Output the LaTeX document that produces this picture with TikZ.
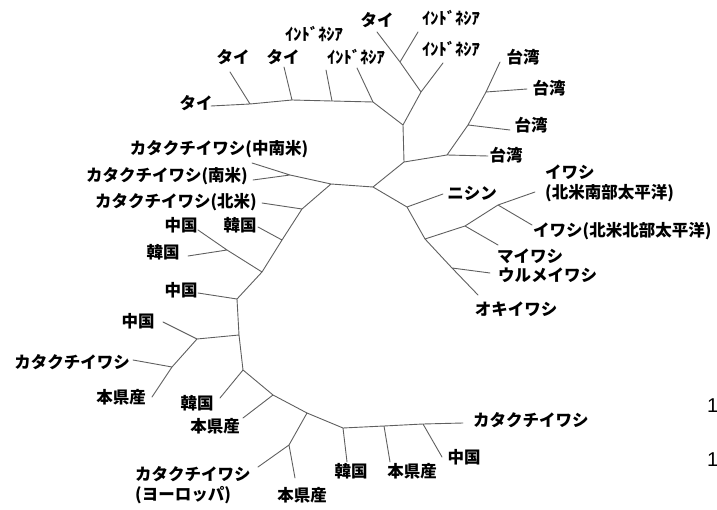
\documentclass[tikz,border=0pt]{standalone}
\usepackage{fontspec}
\newfontfamily\jp{Noto Sans CJK JP}
\newfontfamily\numf{Liberation Sans}
\definecolor{linegray}{RGB}{95,95,95}
\begin{document}
\begin{tikzpicture}[x=1pt,y=-1pt,
  br/.style={draw=linegray, line width=0.9pt, line cap=round},
  lab/.style={font=\jp\bfseries\fontsize{16.5}{20}\selectfont, inner sep=0pt, text=black},
  num/.style={font=\numf\fontsize{20}{22}\selectfont, inner sep=0pt, text=black}]
\useasboundingbox (0,0) rectangle (717,510);
% internal nodes
\coordinate (A) at (403,125);
\coordinate (B) at (404,162);
\coordinate (C) at (373,187);
\coordinate (D) at (407,207);
\coordinate (E) at (425,239);
\coordinate (F) at (465,226);
\coordinate (G) at (498,205);
\coordinate (H) at (452,268);
\coordinate (I) at (421,92);
\coordinate (J) at (400,62);
\coordinate (K) at (373,102);
\coordinate (K2) at (332,101);
\coordinate (K3) at (292,100);
\coordinate (K4) at (250,104);
\coordinate (TW1) at (447,155);
\coordinate (TW2) at (468,125);
\coordinate (TW3) at (486,92);
\coordinate (L) at (331,184);
\coordinate (M) at (290,175);
\coordinate (N) at (302,209);
\coordinate (O) at (282,240);
\coordinate (P) at (262,272);
\coordinate (Q) at (227,250);
\coordinate (R) at (237,299);
\coordinate (S) at (239,335);
\coordinate (T) at (197,339);
\coordinate (V) at (172,367);
\coordinate (U) at (243,370);
\coordinate (W) at (273,395);
\coordinate (X) at (307,413);
\coordinate (Y) at (289,445);
\coordinate (Z) at (343,428);
\coordinate (AA) at (384,426);
\coordinate (BB) at (423,424);
% leaf ends
\coordinate (l1) at (211,106);
\coordinate (l2) at (230,72);
\coordinate (l3) at (284,67);
\coordinate (l4) at (326,70);
\coordinate (l5) at (357,68);
\coordinate (l6) at (377,32);
\coordinate (l7) at (418,32);
\coordinate (l8) at (443,63);
\coordinate (l9) at (500,62);
\coordinate (l10) at (527,89);
\coordinate (l11) at (510,130);
\coordinate (l12) at (488,156);
\coordinate (l13) at (443,194);
\coordinate (l14) at (535,192);
\coordinate (l15) at (532,225);
\coordinate (l16) at (498,245);
\coordinate (l17) at (490,273);
\coordinate (l18) at (478,295);
\coordinate (l19) at (252,163);
\coordinate (l20) at (253,180);
\coordinate (l21) at (262,203);
\coordinate (l22) at (258,227);
\coordinate (l23) at (198,230);
\coordinate (l24) at (188,256);
\coordinate (l25) at (198,293);
\coordinate (l26) at (163,322);
\coordinate (l27) at (133,360);
\coordinate (l28) at (152,397);
\coordinate (l29) at (220,398);
\coordinate (l30) at (243,418);
\coordinate (l31) at (258,467);
\coordinate (l32) at (295,478);
\coordinate (l33) at (347,462);
\coordinate (l34) at (390,462);
\coordinate (l35) at (442,457);
\coordinate (l36) at (463,423);
% branches
\draw[br] (A)--(B) (A)--(I) (A)--(K) (B)--(TW1) (B)--(C) (C)--(D) (C)--(L)
  (D)--(l13) (D)--(E) (E)--(F) (F)--(G) (G)--(l14) (G)--(l15) (F)--(l16)
  (E)--(H) (H)--(l17) (H)--(l18)
  (I)--(J) (I)--(l8) (J)--(l6) (J)--(l7)
  (K)--(l5) (K)--(K2) (K2)--(l4) (K2)--(K3) (K3)--(l3) (K3)--(K4) (K4)--(l2) (K4)--(l1)
  (TW1)--(l12) (TW1)--(TW2) (TW2)--(l11) (TW2)--(TW3) (TW3)--(l10) (TW3)--(l9)
  (L)--(M) (M)--(l19) (M)--(l20) (L)--(N) (N)--(l21) (N)--(O) (O)--(l22) (O)--(P)
  (P)--(Q) (Q)--(l23) (Q)--(l24) (P)--(R) (R)--(l25) (R)--(S) (S)--(T) (T)--(l26)
  (T)--(V) (V)--(l27) (V)--(l28) (S)--(U) (U)--(l29) (U)--(W) (W)--(l30) (W)--(X)
  (X)--(Y) (Y)--(l31) (Y)--(l32) (X)--(Z) (Z)--(l33) (Z)--(AA) (AA)--(l34)
  (AA)--(BB) (BB)--(l35) (BB)--(l36);
% labels
\node[lab] (t1) at (196,103) {タイ};
\node[lab] (t2) at (233,57) {タイ};
\node[lab] (t3) at (283,57) {タイ};
\node[lab] (t4) at (314,34) {ｲﾝﾄﾞﾈｼｱ};
\node[lab] (t5) at (356,57) {ｲﾝﾄﾞﾈｼｱ};
\node[lab] (t6) at (377,20) {タイ};
\node[lab] (t7) at (451,18) {ｲﾝﾄﾞﾈｼｱ};
\node[lab] (t8) at (451,49) {ｲﾝﾄﾞﾈｼｱ};
\node[lab] (t9) at (523,57) {台湾};
\node[lab] (t10) at (549,88) {台湾};
\node[lab] (t11) at (531,125) {台湾};
\node[lab] (t12) at (506,155) {台湾};
\node[lab] (t13) at (472,193) {ニシン};
\node[lab, anchor=west, align=left] (t14) at (545,183) {イワシ\\(北米南部太平洋)};
\node[lab, anchor=west] (t15) at (533,231) {イワシ(北米北部太平洋)};
\node[lab] (t16) at (530,256) {マイワシ};
\node[lab, anchor=west] (t17) at (498,275) {ウルメイワシ};
\node[lab] (t18) at (516,309) {オキイワシ};
\node[lab] (t19) at (219,149) {カタクチイワシ(中南米)};
\node[lab, anchor=east] (t20) at (248,176) {カタクチイワシ(南米)};
\node[lab, anchor=east] (t21) at (257,202) {カタクチイワシ(北米)};
\node[lab] (t22) at (181,225) {中国};
\node[lab] (t23) at (240,225) {韓国};
\node[lab] (t24) at (163,252) {韓国};
\node[lab] (t25) at (181,290) {中国};
\node[lab] (t26) at (138,321) {中国};
\node[lab, anchor=east] (t27) at (130,362) {カタクチイワシ};
\node[lab] (t28) at (121,397) {本県産};
\node[lab] (t29) at (197,403) {韓国};
\node[lab] (t30) at (215,426) {本県産};
\node[lab, anchor=west, align=left] (t31) at (135,485) {カタクチイワシ\\(ヨーロッパ)};
\node[lab] (t32) at (302,495) {本県産};
\node[lab] (t33) at (351,471) {韓国};
\node[lab] (t34) at (412,471) {本県産};
\node[lab] (t35) at (464,457) {中国};
\node[lab, anchor=west] (t36) at (473,420) {カタクチイワシ};
\node[num, anchor=west] (n1) at (707,406) {1};
\node[num, anchor=west] (n2) at (707,460) {1};
\end{tikzpicture}
\end{document}
